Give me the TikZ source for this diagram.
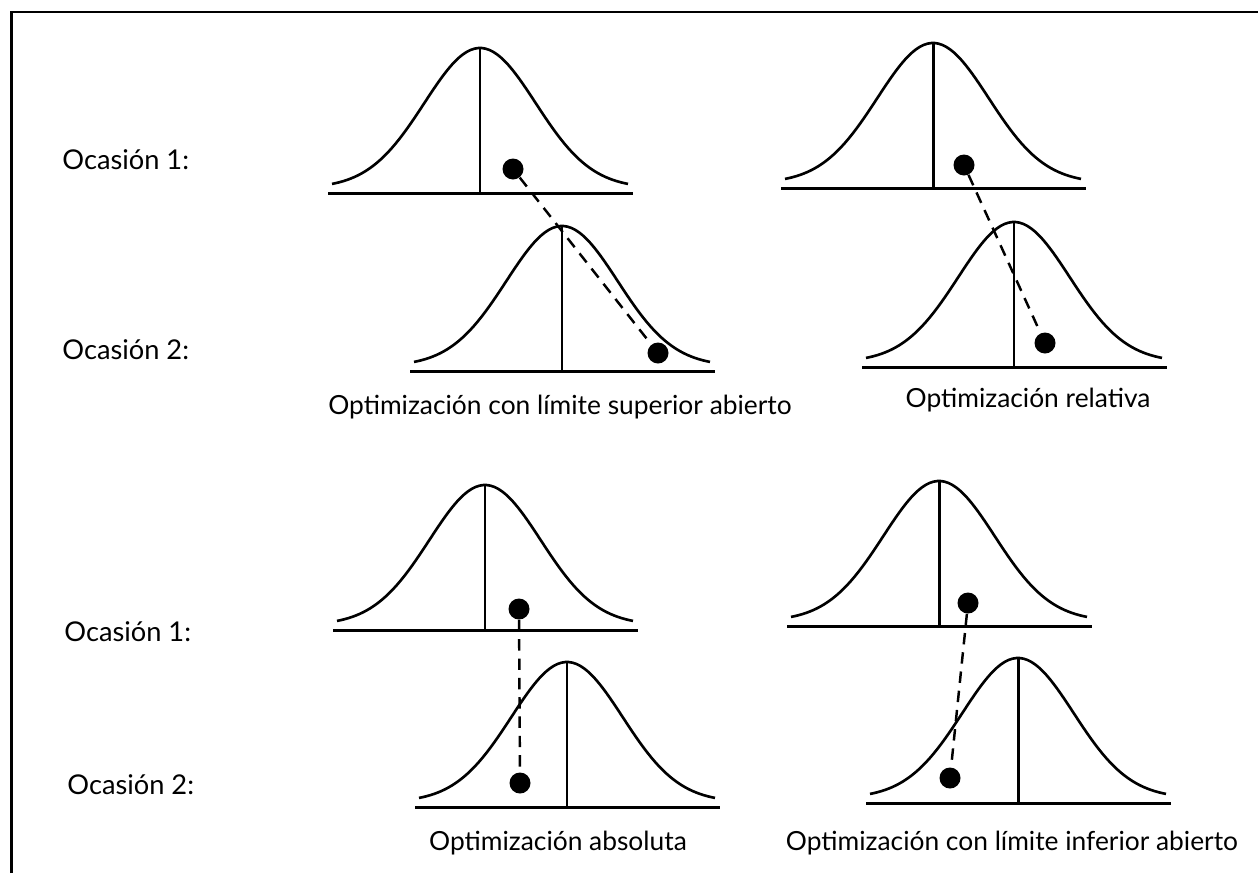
\documentclass[tikz,border=0pt]{standalone}
\usepackage{fontspec}
\setmainfont{Lato}
\usetikzlibrary{positioning}

\tikzset{
 curve/.style={line width=1.5pt,line join=round},
 axisline/.style={line width=1.7pt},
 dot/.style={circle,fill=black,inner sep=0pt,minimum size=0.42cm},
 shiftline/.style={line width=1.4pt,dash pattern=on 6.5pt off 4.5pt},
 occ/.style={anchor=west,inner sep=0pt,font=\fontsize{15.5}{18}\selectfont},
 caption/.style={inner sep=0pt,font=\fontsize{15}{18}\selectfont},
}

\begin{document}
\begin{tikzpicture}[x=0.02cm,y=-0.02cm]
\useasboundingbox (0,0) rectangle (1258,873);
% frame
\draw[line width=1.7pt] (11.5,873) -- (11.5,12) -- (1258,12);
% the eight bell curves: name/centre/axis/width of the mean line
\foreach \name/\cx/\ay/\lw in {a1/480/193/0.85pt, a2/562/371/1.7pt,
  b1/933/188/1.7pt, b2/1014/367/0.85pt, c1/485/630/1.3pt, c2/567/807/0.9pt,
  d1/939/626/1.7pt, d2/1018/803/1.7pt} {
 \begin{scope}
 \coordinate (\name-base) at (\cx,\ay);
 \coordinate (\name-peak) at (\cx,\ay-145);
 \draw[axisline] (\cx-152,\ay) -- (\cx+153,\ay);
 \draw[curve] plot[domain=-148:148,samples=80]
  ({\cx+\x},{\ay-5-140*exp(-(\x/10)^2/62)});
 \draw[line width=\lw] (\name-base) -- (\name-peak);
 \end{scope}
}
% scores on both occasions
\node[dot] (a1-dot) at (513,169) {};
\node[dot] (a2-dot) at (658,353) {};
\node[dot] (b1-dot) at (964,165) {};
\node[dot] (b2-dot) at (1045,343) {};
\node[dot] (c1-dot) at (519,609) {};
\node[dot] (c2-dot) at (520,783) {};
\node[dot] (d1-dot) at (968,603) {};
\node[dot] (d2-dot) at (950,778) {};
\foreach \g in {a,b,c,d} {\draw[shiftline] (\g1-dot) -- (\g2-dot);}
% labels
\node[occ] (occ-a1) at (62,160) {Ocasión 1:};
\node[occ] (occ-a2) at (62,350) {Ocasión 2:};
\node[occ] (occ-c1) at (64,632) {Ocasión 1:};
\node[occ] (occ-c2) at (67,785) {Ocasión 2:};
\node[caption] (cap-a) at (560,407) {Optimización con límite superior abierto};
\node[caption] (cap-b) at (1028,400) {Optimización relativa};
\node[caption] (cap-c) at (558,843) {Optimización absoluta};
\node[caption] (cap-d) at (1012,843) {Optimización con límite inferior abierto};
\end{tikzpicture}
\end{document}
